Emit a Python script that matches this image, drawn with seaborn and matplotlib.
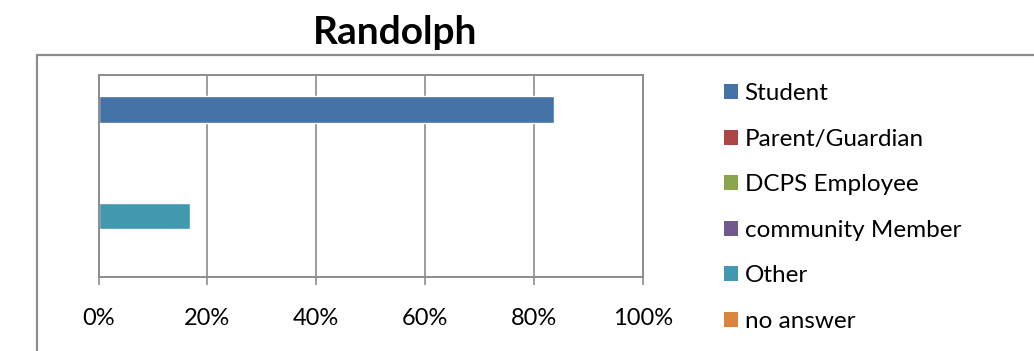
import numpy as np
import pandas as pd
import seaborn as sns
from matplotlib import pyplot as plt
from matplotlib.patches import Patch, Rectangle
from matplotlib.ticker import PercentFormatter

groups = ['Student', 'Parent/Guardian', 'DCPS Employee', 'community Member', 'Other', 'no answer']
shares = [0.836, 0.0, 0.0, 0.0, 0.168, 0.0]
colors = ['#4572A7', '#AA4643', '#89A54E', '#71588F', '#4198AF', '#DB843D']
ticks = [0, 0.2, 0.4, 0.6, 0.8, 1.0]

df = pd.DataFrame({'group': groups, 'share': shares})

sns.set_style('white')
plt.rcParams['font.family'] = ['Lato', 'DejaVu Sans']
plt.rcParams['text.color'] = 'black'
grey = '#8c8c8c'

fig = plt.figure(figsize=(10.34, 3.51), dpi=100)
W, H = 1034, 351
ax = fig.add_axes([98.5 / W, 1 - 277 / H, (643 - 98.5) / W, (277 - 75) / H])

sns.barplot(data=df, x='share', y='group', hue='group', palette=colors,
            orient='h', width=1.0, legend=False, ax=ax, saturation=1)

ax.set_xlim(0, 1)
ax.set_ylim(5.5 + 0.787, -0.5 - 0.787)
ax.set_xticks(ticks)
ax.xaxis.set_major_formatter(PercentFormatter(1.0, decimals=0))
ax.set_yticks([])
ax.set_xlabel('')
ax.set_ylabel('')
ax.grid(axis='x', color=grey, linewidth=1.2)
ax.set_axisbelow(True)
for s in ax.spines.values():
    s.set_color(grey)
    s.set_linewidth(1.4)
ax.tick_params(axis='x', which='major', bottom=True, length=5.5, width=1.2,
               color=grey, pad=17, labelsize=17, labelcolor='black')

# outer chart border (cut by the image edge)
fig.patches.append(Rectangle((37 / W, -0.1), 1.1, 1 - 55 / H + 0.1,
                             transform=fig.transFigure, fill=False,
                             edgecolor=grey, linewidth=1.6))

fig.text(395 / W, 1 - 33 / H, 'Randolph', ha='center', va='center',
         fontsize=28, fontweight='bold', color='black')

handles = [Patch(facecolor=c, edgecolor='none') for c in colors]
fig.legend(handles, groups, loc='center left', bbox_to_anchor=(724 / W, 1 - 207.5 / H),
           frameon=False, fontsize=17.5, handlelength=0.58, handleheight=0.58,
           handletextpad=0.27, labelspacing=1.01, borderpad=0, borderaxespad=0,
           labelcolor='black')

fig.savefig('out.png', dpi=100)
